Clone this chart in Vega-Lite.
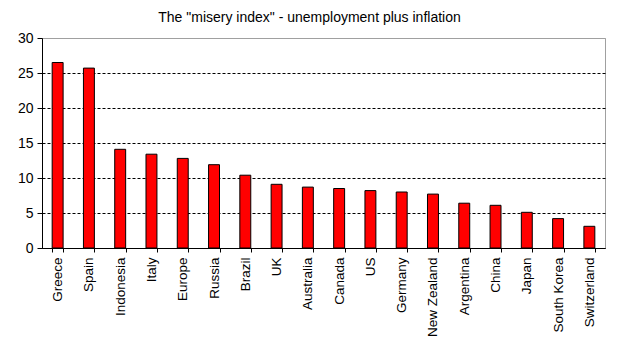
{
  "$schema": "https://vega.github.io/schema/vega-lite/v6.json",
  "width": 563,
  "height": 210,
  "autosize": "none",
  "padding": {"left": 42, "top": 38, "right": 15, "bottom": 101},
  "background": "white",
  "title": {
    "text": "The \"misery index\" - unemployment plus inflation",
    "fontSize": 14,
    "font": "Liberation Sans",
    "fontWeight": "normal",
    "color": "black",
    "offset": 6,
    "dx": -14
  },
  "data": {
    "values": [
      {"country": "Greece", "value": 26.5},
      {"country": "Spain", "value": 25.7},
      {"country": "Indonesia", "value": 14.1},
      {"country": "Italy", "value": 13.4},
      {"country": "Europe", "value": 12.8},
      {"country": "Russia", "value": 11.9},
      {"country": "Brazil", "value": 10.4},
      {"country": "UK", "value": 9.1},
      {"country": "Australia", "value": 8.7},
      {"country": "Canada", "value": 8.5},
      {"country": "US", "value": 8.2},
      {"country": "Germany", "value": 8.0},
      {"country": "New Zealand", "value": 7.7},
      {"country": "Argentina", "value": 6.4},
      {"country": "China", "value": 6.1},
      {"country": "Japan", "value": 5.1},
      {"country": "South Korea", "value": 4.2},
      {"country": "Switzerland", "value": 3.1}
    ]
  },
  "mark": {"type": "bar", "fill": "#ff0000", "stroke": "black", "strokeWidth": 1},
  "encoding": {
    "x": {
      "field": "country",
      "type": "nominal",
      "sort": null,
      "scale": {"paddingInner": 0.65, "paddingOuter": 0.325},
      "axis": {
        "title": null,
        "labelAngle": -90,
        "labelAlign": "right",
        "labelBaseline": "middle",
        "labelFontSize": 13.5,
        "labelFont": "Liberation Sans",
        "labelColor": "black",
        "tickBand": "extent",
        "tickSize": 4,
        "tickColor": "black",
        "domainColor": "black",
        "labelPadding": 5,
        "grid": false
      }
    },
    "y": {
      "field": "value",
      "type": "quantitative",
      "scale": {"domain": [0, 30], "nice": false},
      "axis": {
        "title": null,
        "values": [0, 5, 10, 15, 20, 25, 30],
        "grid": true,
        "gridColor": {"condition": {"test": "datum.value >= 30", "value": "#a0a0a0"}, "value": "black"},
        "gridDash": {"condition": {"test": "datum.value >= 30", "value": []}, "value": [3, 2]},
        "labelFontSize": 14,
        "labelFont": "Liberation Sans",
        "labelColor": "black",
        "tickSize": 5,
        "tickColor": "black",
        "domainColor": "black",
        "labelPadding": 4
      }
    }
  },
  "config": {
    "view": {"stroke": "#a0a0a0"}
  }
}
